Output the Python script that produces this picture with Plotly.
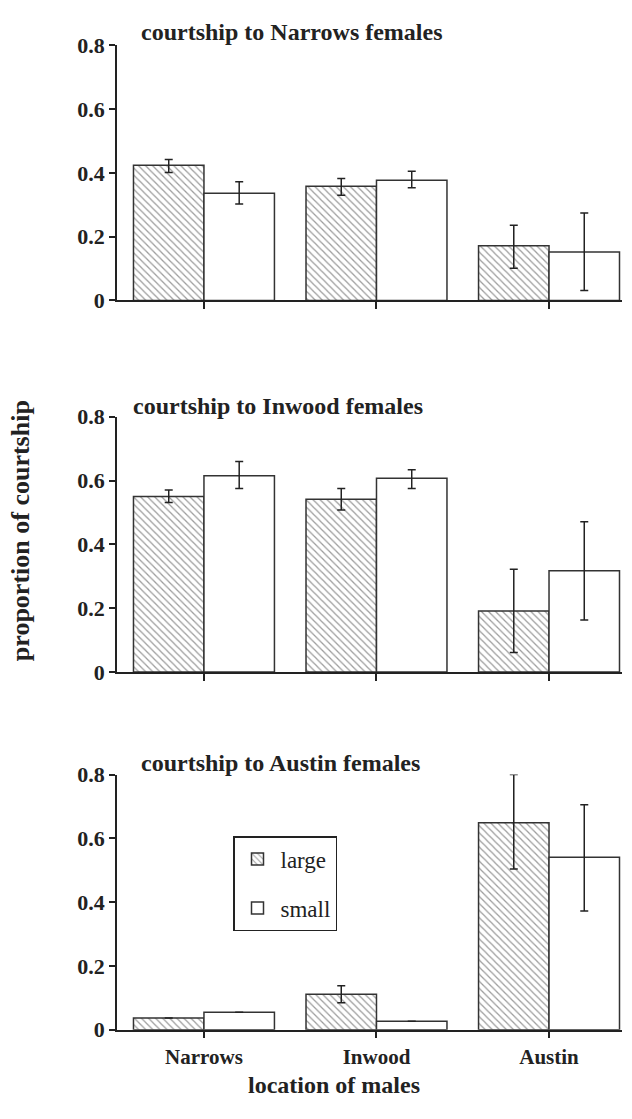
import plotly.graph_objects as go

locations = ["Narrows", "Inwood", "Austin"]
panel_titles = ["courtship to Narrows females", "courtship to Inwood females", "courtship to Austin females"]

large_vals = [[0.424, 0.358, 0.171], [0.550, 0.541, 0.191], [0.037, 0.111, 0.649]]
large_hi = [[0.442, 0.382, 0.236], [0.570, 0.575, 0.322], [0.037, 0.138, 0.800]]
large_lo = [[0.401, 0.330, 0.101], [0.531, 0.508, 0.061], [0.037, 0.085, 0.504]]

small_vals = [[0.336, 0.377, 0.152], [0.615, 0.607, 0.317], [0.055, 0.027, 0.541]]
small_hi = [[0.372, 0.405, 0.274], [0.660, 0.634, 0.471], [0.055, 0.027, 0.705]]
small_lo = [[0.302, 0.353, 0.031], [0.575, 0.575, 0.163], [0.055, 0.027, 0.372]]

yticks = [0, 0.2, 0.4, 0.6, 0.8]
yticklabels = ["0", "0.2", "0.4", "0.6", "0.8"]

W, H = 632, 1119
FONT = "Liberation Serif"
INK = "#222222"
# pixel positions of panel tops (0.8) and bottoms (0)
panel_px = [(34, 295), (414, 675), (780, 1041)]
x_left, x_right = 117, 622

fig = go.Figure()

for i in range(3):
    xa = "x" if i == 0 else f"x{i+1}"
    ya = "y" if i == 0 else f"y{i+1}"
    lv, sv = large_vals[i], small_vals[i]
    fig.add_trace(go.Bar(
        x=locations, y=lv, name="large", legendgroup="large", showlegend=(i == 2),
        xaxis=xa, yaxis=ya,
        marker=dict(color="white", line=dict(color="#333333", width=1.5),
                    pattern=dict(shape="\\", fgcolor="#3a3a3a", bgcolor="white", size=5, solidity=0.25)),
        error_y=dict(type="data", symmetric=False,
                     array=[h - v for h, v in zip(large_hi[i], lv)],
                     arrayminus=[v - l for l, v in zip(large_lo[i], lv)],
                     color=INK, thickness=1.5, width=4),
    ))
    fig.add_trace(go.Bar(
        x=locations, y=sv, name="small", legendgroup="small", showlegend=(i == 2),
        xaxis=xa, yaxis=ya,
        marker=dict(color="white", line=dict(color="#333333", width=1.5)),
        error_y=dict(type="data", symmetric=False,
                     array=[h - v for h, v in zip(small_hi[i], sv)],
                     arrayminus=[v - l for l, v in zip(small_lo[i], sv)],
                     color=INK, thickness=1.5, width=4),
    ))

layout = dict(
    width=W, height=H,
    margin=dict(l=0, r=0, t=0, b=0),
    paper_bgcolor="white", plot_bgcolor="white",
    barmode="group", bargap=0.183, bargroupgap=0,
    font=dict(family=FONT, color=INK),
    legend=dict(x=233 / W, y=1 - 843 / H, xanchor="left", yanchor="top",
                bordercolor=INK, borderwidth=1.5, bgcolor="white",
                font=dict(family=FONT, size=23, color=INK),
                traceorder="grouped", tracegroupgap=16,
                itemwidth=36),
    showlegend=True,
)

for i in range(3):
    top, bot = panel_px[i]
    xkey = "xaxis" if i == 0 else f"xaxis{i+1}"
    ykey = "yaxis" if i == 0 else f"yaxis{i+1}"
    yanchor = "y" if i == 0 else f"y{i+1}"
    xanchor = "x" if i == 0 else f"x{i+1}"
    layout[xkey] = dict(
        domain=[x_left / W, x_right / W], anchor=yanchor,
        range=[-0.504, 2.423], type="category",
        categoryorder="array", categoryarray=locations,
        showline=True, linecolor=INK, linewidth=1.5,
        ticks="outside", ticklen=7, tickwidth=1.5, tickcolor=INK,
        showgrid=False, zeroline=False,
        showticklabels=(i == 2),
        tickfont=dict(family=FONT, size=21, weight="bold", color=INK),
    )
    layout[ykey] = dict(
        domain=[1 - bot / H, 1 - top / H], anchor=xanchor,
        range=[0, 0.8], tickvals=yticks, ticktext=yticklabels,
        showline=True, linecolor=INK, linewidth=1.5,
        ticks="outside", ticklen=6, tickwidth=1.5, tickcolor=INK,
        showgrid=False, zeroline=False,
        tickfont=dict(family=FONT, size=22, weight="bold", color=INK),
    )

fig.update_layout(**layout)

title_pos = [(292, 20), (278, 403), (280, 768)]
for t, (cx, cy) in zip(panel_titles, title_pos):
    fig.add_annotation(text=t, x=cx / W, y=1 - cy / H, xref="paper", yref="paper",
                       showarrow=False, xanchor="center", yanchor="middle",
                       font=dict(family=FONT, size=24, weight="bold", color=INK))

fig.add_annotation(text="proportion of courtship", x=20 / W, y=1 - 531 / H,
                   xref="paper", yref="paper", showarrow=False, textangle=-90,
                   xanchor="center", yanchor="middle",
                   font=dict(family=FONT, size=26, weight="bold", color=INK))
fig.add_annotation(text="location of males", x=334 / W, y=1 - 1098 / H,
                   xref="paper", yref="paper", showarrow=False,
                   xanchor="center", yanchor="middle",
                   font=dict(family=FONT, size=24, weight="bold", color=INK))

fig.write_html("out.html")
